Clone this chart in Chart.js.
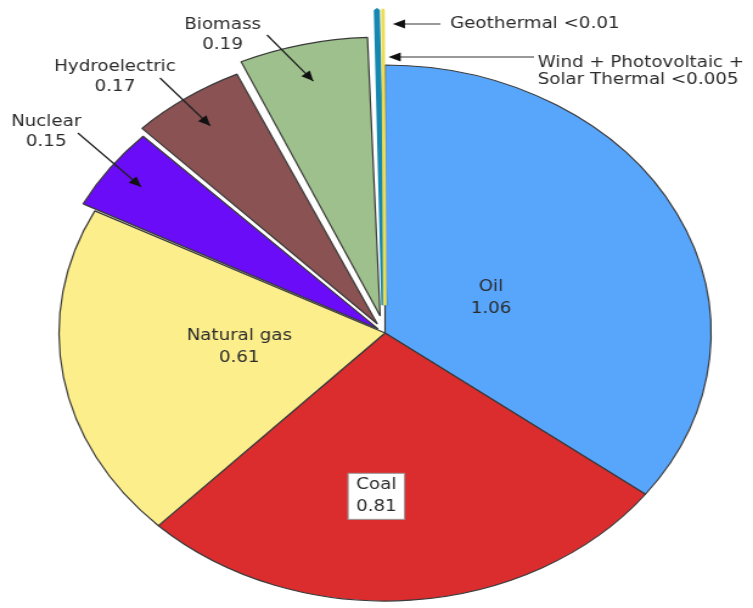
<!DOCTYPE html>
<html>
<head>
<meta charset="utf-8">
<script src="https://cdn.jsdelivr.net/npm/chart.js@4/dist/chart.umd.min.js"></script>
<style>
  html, body { margin: 0; padding: 0; background: #fff; overflow: hidden; }
  /* the original picture is stretched sideways, so the canvas is too */
  #chart { transform: scaleX(1.2165); transform-origin: 0 0; }
</style>
</head>
<body>
<canvas id="chart" width="619" height="608"></canvas>
<script>
const sources = ['Oil', 'Coal', 'Natural gas', 'Nuclear', 'Hydroelectric', 'Biomass', 'Geothermal', 'Wind + Photovoltaic + Solar Thermal'];
const values = [1.06, 0.81, 0.61, 0.15, 0.17, 0.19, 0.01, 0.005];
const valueLabels = ['1.06', '0.81', '0.61', '0.15', '0.17', '0.19', '<0.01', '<0.005'];
const colors = ['#58a6fc', '#dc2d2e', '#fdee8c', '#6a0cf8', '#8a5252', '#9dc08c', '#1b9dc8', '#f2e466'];
const explode = [0, 0, 0, 28, 44, 70, 111, 111];

const FONT = '15px "DejaVu Sans", Verdana, sans-serif';
const TEXT = '#2b2b2b';

// the two tiny slices are thickened with a border in their own colour
const borderColors = ['#3a3a3a', '#3a3a3a', '#3a3a3a', '#3a3a3a', '#3a3a3a', '#3a3a3a', '#1688b0', '#eedc55'];
const borderWidths = [1.2, 1.2, 1.2, 1.2, 1.2, 1.2, 5, 3];

// label placement, by slice index
const inside = {
  0: { r: 0.35, da: 4.7 },
  1: { r: 0.61, da: 7, box: true },
  2: { r: 0.45, da: 2.8 }
};
const callouts = {
  3: { x: 38, y: 122, ax: 64, ay: 133 },
  4: { x: 94.5, y: 67, ax: 131.5, ay: 78 },
  5: { x: 183, y: 25, ax: 219.5, ay: 35 }
};
const sideNotes = {
  6: { lines: ['Geothermal <0.01'], x: 370, y: 24, ly: 24, lx: 362, dx: 4 },
  7: { lines: ['Wind + Photovoltaic +', 'Solar Thermal <0.005'], x: 442, y: 63, ly: 57, lx: 439, dx: 0 }
};

function arrowHead(ctx, fx, fy, tx, ty) {
  const a = Math.atan2(ty - fy, tx - fx);
  const len = 10, w = 4.5;
  ctx.beginPath();
  ctx.moveTo(tx, ty);
  ctx.lineTo(tx - Math.cos(a) * len - Math.sin(a) * w, ty - Math.sin(a) * len + Math.cos(a) * w);
  ctx.lineTo(tx - Math.cos(a) * len + Math.sin(a) * w, ty - Math.sin(a) * len - Math.cos(a) * w);
  ctx.closePath();
  ctx.fill();
}

const labelPlugin = {
  id: 'sliceLabels',
  afterDatasetsDraw(chart) {
    const ctx = chart.ctx;
    const arcs = chart.getDatasetMeta(0).data;
    ctx.save();
    ctx.font = FONT;
    ctx.fillStyle = TEXT;
    ctx.strokeStyle = TEXT;
    ctx.textBaseline = 'middle';

    arcs.forEach((arc, i) => {
      const mid = (arc.startAngle + arc.endAngle) / 2;
      const off = explode[i] / 4; // chart.js moves an arc by a quarter of its offset
      const lines = [sources[i], valueLabels[i]];

      if (inside[i]) {
        const p = inside[i];
        const a = mid + p.da * Math.PI / 180;
        const x = arc.x + Math.cos(a) * arc.outerRadius * p.r;
        const y = arc.y + Math.sin(a) * arc.outerRadius * p.r;
        if (p.box) {
          const w = Math.max(...lines.map(t => ctx.measureText(t).width)) + 13;
          ctx.fillStyle = '#fff';
          ctx.fillRect(x - w / 2, y - 23, w, 46);
          ctx.strokeStyle = '#999';
          ctx.lineWidth = 1;
          ctx.strokeRect(x - w / 2, y - 23, w, 46);
          ctx.fillStyle = TEXT;
        }
        ctx.textAlign = 'center';
        ctx.fillText(lines[0], x, y - 11);
        ctx.fillText(lines[1], x, y + 11);
      } else if (callouts[i]) {
        const c = callouts[i];
        ctx.textAlign = 'center';
        ctx.fillText(lines[0], c.x, c.y);
        ctx.fillText(lines[1], c.x, c.y + 20);
        const d = off + arc.outerRadius * 0.9;
        const tx = arc.x + Math.cos(mid) * d;
        const ty = arc.y + Math.sin(mid) * d;
        ctx.strokeStyle = '#222';
        ctx.fillStyle = '#111';
        ctx.lineWidth = 1.3;
        ctx.beginPath();
        ctx.moveTo(c.ax, c.ay);
        ctx.lineTo(tx, ty);
        ctx.stroke();
        arrowHead(ctx, c.ax, c.ay, tx, ty);
        ctx.fillStyle = TEXT;
      } else if (sideNotes[i]) {
        const s = sideNotes[i];
        ctx.textAlign = 'left';
        s.lines.forEach((t, k) => ctx.fillText(t, s.x, s.y + k * 17));
        const tx = arc.x + Math.cos(mid) * off + 3 + s.dx;
        ctx.strokeStyle = '#777';
        ctx.lineWidth = 1.3;
        ctx.beginPath();
        ctx.moveTo(s.lx, s.ly);
        ctx.lineTo(tx + 6, s.ly);
        ctx.stroke();
        ctx.fillStyle = '#111';
        arrowHead(ctx, s.lx, s.ly, tx, s.ly);
        ctx.fillStyle = TEXT;
      }
    });
    ctx.restore();
  }
};

const ctx = document.getElementById('chart').getContext('2d');
new Chart(ctx, {
  type: 'pie',
  data: {
    labels: sources,
    datasets: [{
      data: values,
      backgroundColor: colors,
      borderColor: borderColors,
      borderWidth: borderWidths,
      offset: explode,
      radius: 268,
      clip: false
    }]
  },
  options: {
    responsive: false,
    animation: false,
    events: [],
    layout: { padding: { left: 14, right: 0, top: 58, bottom: 0 } },
    plugins: {
      legend: { display: false },
      tooltip: { enabled: false }
    }
  },
  plugins: [labelPlugin]
});
</script>
</body>
</html>
